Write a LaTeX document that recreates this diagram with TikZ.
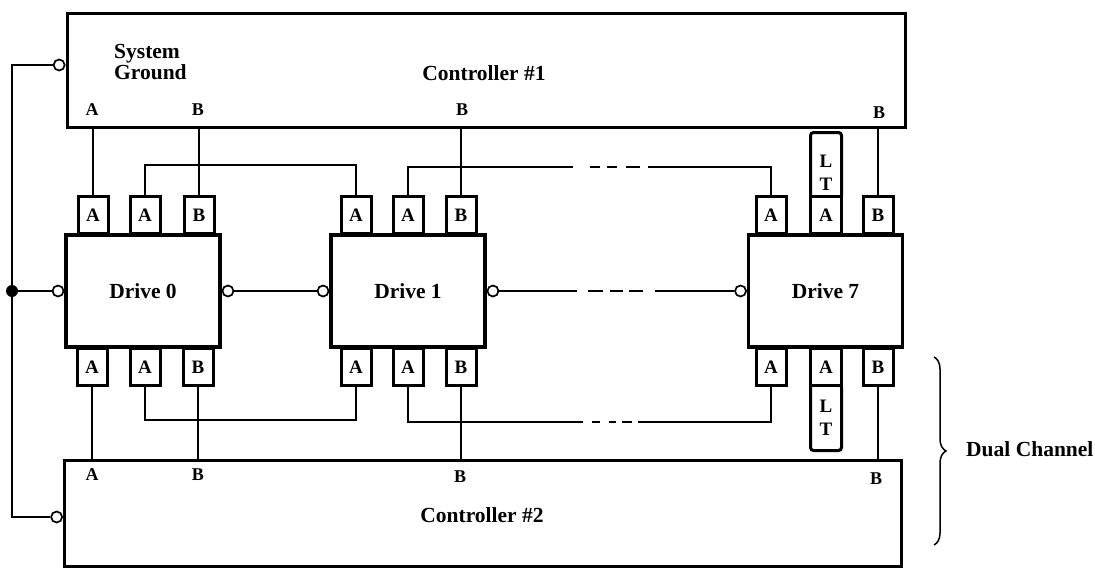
\documentclass[tikz,border=0pt]{standalone}
\usepackage{fontspec}
\setmainfont{Liberation Serif}
\usetikzlibrary{decorations.pathreplacing}
\newcommand{\bigfont}{\fontsize{21.5}{19}\selectfont\bfseries}
\newcommand{\boxfont}{\fontsize{19}{21}\selectfont\bfseries}
\newcommand{\ltfont}{\fontsize{19}{23}\selectfont\bfseries}
\newcommand{\portfont}{\fontsize{18}{20}\selectfont\bfseries}
\begin{document}
\begin{tikzpicture}[x=1pt,y=-1pt,
  ctrl/.style={draw, line width=3pt, inner sep=0},
  drive/.style={draw, line width=3.2pt, minimum width=154, minimum height=112, inner sep=0, font=\bigfont},
  conn/.style={draw, line width=3pt, fill=white, minimum width=30, minimum height=37, inner sep=0, font=\boxfont},
  ltbox/.style={draw, line width=3pt, rounded corners=3pt, minimum width=31, minimum height=66, inner sep=0},
  wire/.style={line width=1.3pt},
  gnd/.style={circle, draw, line width=1.7pt, fill=white, minimum size=11, inner sep=0},
  dot/.style={circle, fill=black, minimum size=12, inner sep=0},
  lbl/.style={font=\portfont, inner sep=0},
  ltt/.style={font=\ltfont, inner sep=0, align=center},
  txt/.style={font=\bigfont, inner sep=0}]
\useasboundingbox (0,0) rectangle (1095,571);

% controllers
\node[ctrl, minimum width=838, minimum height=114] (c1) at (486,70) {};
\node[ctrl, minimum width=837, minimum height=106] (c2) at (483,513) {};
\node[txt] (c1t) at (484,73) {Controller \#1};
\node[txt] (c2t) at (482,515) {Controller \#2};
\node[txt, align=left, anchor=west] (sg) at (114,62) {System\\Ground};

% controller port labels
\node[lbl] (c1a) at (92,110) {A};
\node[lbl] (c1b0) at (198,110) {B};
\node[lbl] (c1b1) at (462,110) {B};
\node[lbl] (c1b7) at (879,113) {B};
\node[lbl] (c2a) at (92,475) {A};
\node[lbl] (c2b0) at (198,475) {B};
\node[lbl] (c2b1) at (460,477) {B};
\node[lbl] (c2b7) at (876,479) {B};

% drives
\node[drive] (d0) at (143,291) {Drive 0};
\node[drive] (d1) at (408,291) {Drive 1};
\node[drive] (d7) at (825.5,291) {Drive 7};

% top connectors
\node[conn, anchor=south] (d0ta1) at (93,235) {A};
\node[conn, anchor=south] (d0ta2) at (145,235) {A};
\node[conn, anchor=south] (d0tb) at (199,235) {B};
\node[conn, anchor=south] (d1ta1) at (356,235) {A};
\node[conn, anchor=south] (d1ta2) at (408,235) {A};
\node[conn, anchor=south] (d1tb) at (461,235) {B};
\node[conn, anchor=south] (d7ta1) at (771,235) {A};
\node[ltbox, anchor=south] (lt1) at (826,200) {};
\node[conn, anchor=south, minimum width=31] (d7ta2) at (826,235) {A};
\node[ltt] (lt1t) at (826,173) {L\\T};
\node[conn, anchor=south] (d7tb) at (878,235) {B};

% bottom connectors
\node[conn, anchor=north] (d0ba1) at (92,347) {A};
\node[conn, anchor=north] (d0ba2) at (145,347) {A};
\node[conn, anchor=north] (d0bb) at (198,347) {B};
\node[conn, anchor=north] (d1ba1) at (356,347) {A};
\node[conn, anchor=north] (d1ba2) at (408,347) {A};
\node[conn, anchor=north] (d1bb) at (461,347) {B};
\node[conn, anchor=north] (d7ba1) at (771,347) {A};
\node[ltbox, anchor=north] (lt2) at (826,383) {};
\node[conn, anchor=north, minimum width=31] (d7ba2) at (826,347) {A};
\node[ltt] (lt2t) at (826,418) {L\\T};
\node[conn, anchor=north] (d7bb) at (878,347) {B};

% ground circles
\node[gnd, anchor=east] (g1) at (c1.west |- 0,65) {};
\node[gnd, anchor=east] (g2) at (c2.west |- 0,517) {};
\node[gnd, anchor=east] (g0l) at (d0.west) {};
\node[gnd, anchor=west] (g0r) at (d0.east) {};
\node[gnd, anchor=east] (g1l) at (d1.west) {};
\node[gnd, anchor=west] (g1r) at (d1.east) {};
\node[gnd, anchor=east] (g7l) at (d7.west) {};
\node[dot] (gd) at (12,291) {};

% ground bus
\draw[wire] (g1.west) -| (gd.center) |- (g2.west);
\draw[wire] (gd.center) -- (g0l.west);
\draw[wire] (g0r.east) -- (g1l.west);
\coordinate (m1) at (577,291);
\coordinate (m2) at (655,291);
\draw[wire] (g1r.east) -- (m1);
\draw[wire] (588,291) -- (603,291) (610,291) -- (623,291) (629,291) -- (643,291);
\draw[wire] (m2) -- (g7l.west);

% controller 1 to drives
\draw[wire] (d0ta1.north) -- (d0ta1.north |- c1.south);
\draw[wire] (d0tb.north) -- (d0tb.north |- c1.south);
\draw[wire] (d1tb.north) -- (d1tb.north |- c1.south);
\draw[wire] (d7tb.north) -- (d7tb.north |- c1.south);
% daisy chain top
\draw[wire] (d0ta2.north) |- (0,165 -| d1ta1.north) -- (d1ta1.north);
\coordinate (t1) at (573,167);
\coordinate (t2) at (648,167);
\draw[wire] (d1ta2.north) |- (t1);
\draw[wire] (590,167) -- (600,167) (607,167) -- (617,167) (626,167) -- (640,167);
\draw[wire] (t2) -| (d7ta1.north);

% controller 2 to drives
\draw[wire] (d0ba1.south) -- (d0ba1.south |- c2.north);
\draw[wire] (d0bb.south) -- (d0bb.south |- c2.north);
\draw[wire] (d1bb.south) -- (d1bb.south |- c2.north);
\draw[wire] (d7bb.south) -- (d7bb.south |- c2.north);
% daisy chain bottom
\draw[wire] (d0ba2.south) |- (0,420 -| d1ba1.south) -- (d1ba1.south);
\coordinate (b1) at (583,422);
\coordinate (b2) at (638,422);
\draw[wire] (d1ba2.south) |- (b1);
\draw[wire] (592,422) -- (600,422) (609,422) -- (616,422) (622,422) -- (632,422);
\draw[wire] (b2) -| (d7ba1.south);

% brace
\coordinate (br1) at (934,357);
\coordinate (br2) at (934,545);
\draw[line width=1.5pt, decorate, decoration={brace, amplitude=12pt}] (br1) -- (br2);
\node[txt, anchor=west] (dc) at (966,449) {Dual Channel};
\end{tikzpicture}
\end{document}
